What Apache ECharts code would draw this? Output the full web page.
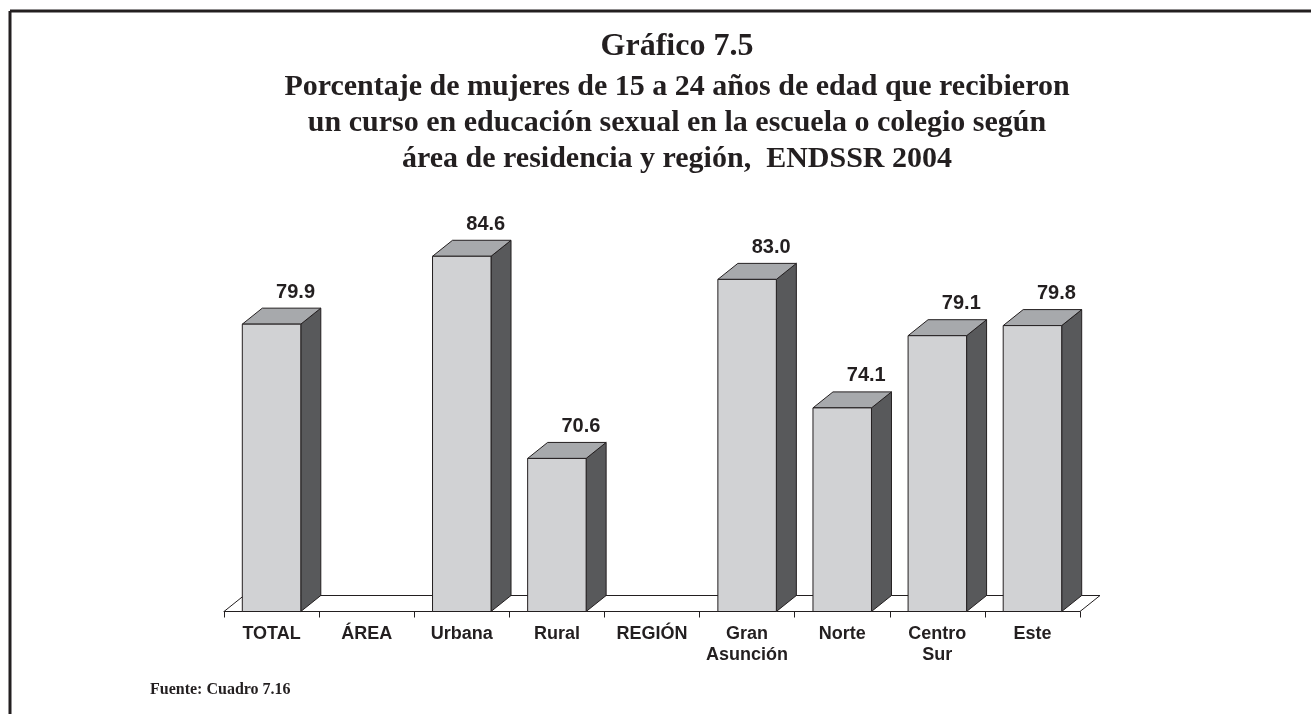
<!DOCTYPE html>
<html lang="es">
<head>
    <meta charset="UTF-8">
    <title>Gráfico 7.5</title>
    <script src="https://cdn.jsdelivr.net/npm/echarts@6/dist/echarts.min.js"></script>
    <style>
      *{margin:0;padding:0}
      html,body{width:100%;height:100%;background:#fff}
      #main{width:1311px;height:714px}
    </style>
</head>
<body>
<div id="main"></div>
<script>
    var categories = ['TOTAL', 'ÁREA', 'Urbana', 'Rural', 'REGIÓN', 'Gran\nAsunción', 'Norte', 'Centro\nSur', 'Este'];
    // ÁREA / REGIÓN are group headings, no bar
    var values = [79.9, null, 84.6, 70.6, null, 83.0, 74.1, 79.1, 79.8];
    var titleLines = [
        'Porcentaje de mujeres de 15 a 24 años de edad que recibieron',
        'un curso en educación sexual en la escuela o colegio según',
        'área de residencia y región,  ENDSSR 2004'
    ];

    var chart = echarts.init(document.getElementById('main'));

    var Y_MIN = 60, Y_MAX = 85;
    var DX = 20, DY = 16;              // fake depth of the 3D bars
    var ink = '#231f20';
    var frontColor = '#d1d2d4', topColor = '#a7a9ac', sideColor = '#58595b';

    var barData = [];
    values.forEach(function (v, i) {
        if (v != null) barData.push([i, v]);
    });

    function renderBar(params, api) {
        var idx = api.value(0), v = api.value(1);
        var top = api.coord([idx, v]);
        var base = api.coord([idx, Y_MIN]);
        var w = api.size([1, 0])[0] * 0.615;
        var l = top[0] - w / 2, r = top[0] + w / 2;
        var t = top[1], b = base[1];
        return {
            type: 'group',
            children: [
                {
                    type: 'polygon',
                    shape: {points: [[r, t], [r + DX, t - DY], [r + DX, b - DY], [r, b]]},
                    style: {fill: sideColor, stroke: ink, lineWidth: 1}
                },
                {
                    type: 'polygon',
                    shape: {points: [[l, t], [r, t], [r + DX, t - DY], [l + DX, t - DY]]},
                    style: {fill: topColor, stroke: ink, lineWidth: 1}
                },
                {
                    type: 'rect',
                    shape: {x: l, y: t, width: w, height: b - t},
                    style: {fill: frontColor, stroke: ink, lineWidth: 1}
                },
                {
                    type: 'text',
                    x: top[0] + 24,
                    y: t - 32,
                    style: {
                        text: v.toFixed(1),
                        fill: ink,
                        font: 'bold 20px "Liberation Sans", Arial, sans-serif',
                        align: 'center',
                        verticalAlign: 'middle'
                    }
                }
            ]
        };
    }

    function renderFloor(params, api) {
        var cs = params.coordSys;
        var x0 = cs.x, x1 = cs.x + cs.width, yb = cs.y + cs.height;
        return {
            type: 'polygon',
            shape: {points: [[x0, yb], [x0 + DX, yb - DY], [x1 + DX, yb - DY], [x1, yb]]},
            style: {fill: '#fff', stroke: ink, lineWidth: 1}
        };
    }

    var serif = '"Liberation Serif", "Times New Roman", serif';
    var graphics = [
        // frame of the page
        {type: 'line', shape: {x1: 10, y1: 11, x2: 1311, y2: 11}, style: {stroke: ink, lineWidth: 3}},
        {type: 'line', shape: {x1: 10, y1: 11, x2: 10, y2: 714}, style: {stroke: ink, lineWidth: 3}},
        {
            type: 'text', x: 677, y: 47,
            style: {text: 'Gráfico 7.5', fill: ink, align: 'center', verticalAlign: 'middle',
                font: 'bold 32px ' + serif}
        },
        {
            type: 'text', x: 150, y: 690,
            style: {text: 'Fuente: Cuadro 7.16', fill: ink, align: 'left', verticalAlign: 'middle',
                font: 'bold 16px ' + serif}
        }
    ];
    titleLines.forEach(function (s, i) {
        graphics.push({
            type: 'text', x: 677, y: 87 + i * 36,
            style: {text: s, fill: ink, align: 'center', verticalAlign: 'middle',
                font: 'bold 30px ' + serif}
        });
    });

    var option = {
        backgroundColor: '#fff',
        animation: false,
        grid: {left: 224, right: 231, top: 250.5, bottom: 102.5},
        xAxis: {
            type: 'category',
            data: categories,
            axisLine: {show: true, lineStyle: {color: ink, width: 1}},
            axisTick: {show: true, length: 6, lineStyle: {color: ink}},
            axisLabel: {
                margin: 12,
                color: ink,
                fontFamily: '"Liberation Sans", Arial, sans-serif',
                fontWeight: 'bold',
                fontSize: 18,
                lineHeight: 21,
                interval: 0
            }
        },
        yAxis: {type: 'value', min: Y_MIN, max: Y_MAX, show: false},
        graphic: graphics,
        series: [
            {type: 'custom', z: 1, renderItem: renderFloor, data: [[0, Y_MIN]], silent: true},
            {type: 'custom', z: 2, renderItem: renderBar, data: barData}
        ]
    };
    chart.setOption(option);
</script>
</body>
</html>
